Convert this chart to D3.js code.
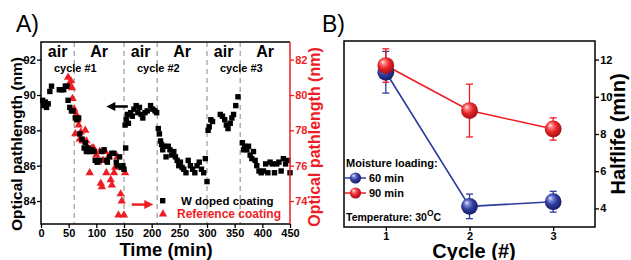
<!DOCTYPE html>
<html>
<head>
<meta charset="utf-8">
<script src="https://cdn.jsdelivr.net/npm/d3@7"></script>
<style>
  body { margin: 0; background: #fff; }
  svg { display: block; font-family: "Liberation Sans", Arial, sans-serif; font-weight: bold; }
</style>
</head>
<body>
<svg id="chart" width="631" height="260"></svg>
<script>
// ---- Panel A data: W doped coating (left axis, nm) ----
const timeW = [3, 5, 8, 10, 13, 16, 19, 33, 37, 41, 44, 47, 49, 52, 55, 58,
  62, 65, 68, 70, 74, 78, 80, 82, 85, 88, 92, 96, 98, 102, 106, 110, 114, 118, 120, 124, 128, 132, 136, 138, 142, 145, 148, 150, 153,
  152, 154, 156, 158, 162, 165, 168, 172, 175, 178, 181, 184, 188, 192, 198, 202, 206, 209,
  212, 214, 216, 218, 220, 223, 226, 230, 233, 236, 240, 243, 246, 249, 252, 255, 258, 262, 266, 270, 274, 278, 282, 286, 290, 294, 297, 300,
  302, 304, 307, 310, 324, 328, 332, 335, 338, 342, 345, 348, 352, 356,
  364, 366, 368, 372, 375, 378, 381, 384, 387, 390, 394, 398, 402, 406, 410, 414, 418, 422, 426, 430, 434, 438, 442, 446, 450];
const valW = [89.7, 89.4, 89.6, 89.3, 89.5, 90.2, 90.5, 90.3, 90.3, 90.3, 90.5, 90.5, 89.7, 89.3, 89.1, 89.1,
  88.7, 88.6, 88.7, 87.8, 87.5, 87.0, 87.3, 86.8, 87.0, 86.8, 86.9, 86.8, 86.3, 86.2, 86.3, 86.8, 86.9, 86.3, 86.2, 86.5, 86.7, 86.7, 86.2, 86.0, 86.5, 85.9, 86.0, 85.8, 87.0,
  88.3, 88.6, 88.9, 88.4, 89.0, 88.8, 89.2, 89.4, 89.0, 89.3, 88.9, 88.7, 89.0, 89.1, 89.4, 89.2, 89.1, 89.0,
  88.1, 87.8, 87.4, 87.2, 86.9, 87.1, 86.5, 87.1, 86.9, 86.6, 86.8, 86.5, 86.3, 86.0, 86.2, 85.9, 85.8, 85.6, 86.3, 86.0, 85.8, 85.6, 86.0, 86.2, 85.8, 85.6, 86.4, 85.1,
  88.0, 88.2, 88.6, 88.5, 88.9, 88.8, 88.6, 88.3, 88.1, 88.4, 88.7, 88.9, 89.4, 89.9,
  87.3, 86.9, 87.1, 86.9, 87.1, 86.6, 86.4, 86.8, 86.3, 86.0, 85.7, 85.6, 85.7, 86.1, 85.6, 86.2, 86.1, 85.6, 86.1, 86.2, 85.7, 86.4, 86.1, 86.3, 85.6];

// ---- Panel A data: reference coating (right axis, nm) ----
const timeRef = [49, 52, 54, 56, 57, 60, 62, 64, 66, 68, 70, 72, 75, 78, 80, 82, 85, 88, 92, 95, 100, 103, 106, 108, 110,
  112, 116, 118, 122, 126, 128, 132, 134, 138, 140, 144, 146, 150, 152];
const valRef = [81.0, 80.6, 80.8, 80.4, 79.8, 79.2, 77.8, 78.9, 78.6, 78.3, 77.5, 77.9, 77.4, 77.4, 78.0, 77.4, 77.0, 75.6, 77.0, 77.0, 76.6, 76.2, 76.8, 75.0, 74.8,
  76.3, 76.8, 75.6, 76.5, 75.2, 74.9, 75.6, 75.9, 76.5, 73.2, 74.4, 74.0, 73.2, 75.6];

const phaseBounds = [0, 60, 150, 210, 300, 360, 450];
const phaseLabels = ["air", "Ar", "air", "Ar", "air", "Ar"];
const cycleLabels = ["cycle #1", "cycle #2", "cycle #3"];
const cycleStarts = [0, 150, 300];
const timeTicks = [0, 50, 100, 150, 200, 250, 300, 350, 400, 450];
const leftTicks = [84, 86, 88, 90, 92];
const rightTicks = [74, 76, 78, 80, 82];

// ---- Panel B data: halflife vs cycle ----
const cycles = [1, 2, 3];
const half60 = [11.32, 4.11, 4.36];
const err60 = [1.12, 0.66, 0.56];
const half90 = [11.68, 9.26, 8.27];
const err90 = [0.9, 1.42, 0.6];
const halfTicks = [4, 6, 8, 10, 12];

const RED = "#ee1d25";
const svg = d3.select("#chart");

/**
 * Minor + major ticks helper
 */
function drawAxis(g, axisFn, scale, major, minor, fmt, color) {
  g.call(axisFn(scale).tickValues(minor).tickSize(2.5).tickFormat(""));
  g.call(axisFn(scale).tickValues(major).tickSize(4).tickPadding(1.2).tickFormat(fmt));
  g.selectAll(".domain").remove();
  g.selectAll("line").attr("stroke", color).attr("stroke-width", 1.3);
  g.selectAll("text").attr("fill", color).attr("font-size", 11).attr("font-weight", "bold")
    .attr("font-family", '"Liberation Sans", Arial, sans-serif');
}

// ================= Panel A =================
const A = {left: 41, right: 290, top: 42, bottom: 224};
const x = d3.scaleLinear().domain([0, 450]).range([A.left, A.right]);
const yL = d3.scaleLinear().domain([82.7, 93.0]).range([A.bottom, A.top]);
const yR = d3.scaleLinear().domain([72.7, 83.0]).range([A.bottom, A.top]);

svg.append("text").attr("x", 16).attr("y", 32).attr("font-size", 23).attr("font-weight", "normal").text("A)");

// dashed separators
svg.append("g").selectAll("line").data(phaseBounds.slice(1, -1)).join("line")
  .attr("x1", d => x(d)).attr("x2", d => x(d))
  .attr("y1", A.top).attr("y2", A.bottom)
  .attr("stroke", "#9a9a9a").attr("stroke-width", 1.2).attr("stroke-dasharray", "5,4");

// phase labels
svg.append("g").selectAll("text").data(phaseLabels).join("text")
  .attr("x", (d, i) => x((phaseBounds[i] + phaseBounds[i + 1]) / 2))
  .attr("y", 57).attr("text-anchor", "middle").attr("font-size", 16)
  .text(d => d);

svg.append("g").selectAll("text").data(cycleLabels).join("text")
  .attr("x", (d, i) => x(cycleStarts[i] + 62))
  .attr("y", 72).attr("text-anchor", "middle").attr("font-size", 11)
  .text(d => d);

// reference triangles
const tri = d3.symbol().type(d3.symbolTriangle).size(30);
svg.append("g").selectAll("path").data(timeRef).join("path")
  .attr("transform", (d, i) => `translate(${x(d)},${yR(valRef[i])})`)
  .attr("d", tri).attr("fill", RED);

// W doped squares
svg.append("g").selectAll("rect").data(timeW).join("rect")
  .attr("x", d => x(d) - 2.7).attr("y", (d, i) => yL(valW[i]) - 2.7)
  .attr("width", 5.4).attr("height", 5.4).attr("fill", "#000");

// arrows
function arrow(x1, x2, y, color) {
  const dir = Math.sign(x2 - x1);
  svg.append("line").attr("x1", x1).attr("x2", x2 - dir * 6).attr("y1", y).attr("y2", y)
    .attr("stroke", color).attr("stroke-width", 2.5);
  svg.append("path")
    .attr("d", `M${x2},${y} L${x2 - dir * 9},${y - 4.5} L${x2 - dir * 9},${y + 4.5} Z`)
    .attr("fill", color);
}
arrow(x(157), x(118), yL(89.35), "#000");
arrow(x(164), x(203), yR(73.8), RED);

// legend A
svg.append("rect").attr("x", 160).attr("y", 198).attr("width", 5.4).attr("height", 5.4).attr("fill", "#000");
svg.append("text").attr("x", 181).attr("y", 205).attr("font-size", 11.5).text("W doped coating");
svg.append("path").attr("transform", "translate(163,214)").attr("d", tri).attr("fill", RED);
svg.append("text").attr("x", 177).attr("y", 218).attr("font-size", 12).attr("fill", RED).text("Reference coating");

// axes A
drawAxis(svg.append("g").attr("transform", `translate(0,${A.bottom})`), d3.axisBottom, x,
  timeTicks, d3.range(25, 450, 50), d3.format("d"), "#000");
drawAxis(svg.append("g").attr("transform", `translate(${A.left},0)`), d3.axisLeft, yL,
  leftTicks, [83, 85, 87, 89, 91], d3.format("d"), "#000");
drawAxis(svg.append("g").attr("transform", `translate(${A.right},0)`), d3.axisRight, yR,
  rightTicks, [73, 75, 77, 79, 81], d3.format("d"), RED);

svg.append("path").attr("d", `M${A.right},${A.top} H${A.left} V${A.bottom} H${A.right}`)
  .attr("fill", "none").attr("stroke", "#000").attr("stroke-width", 1.5);
svg.append("line").attr("x1", A.right).attr("x2", A.right).attr("y1", A.top).attr("y2", A.bottom)
  .attr("stroke", RED).attr("stroke-width", 1.5);

svg.append("text").attr("transform", "translate(22,144) rotate(-90)")
  .attr("text-anchor", "middle").attr("font-size", 15.5).text("Optical pathlength (nm)");
svg.append("text").attr("transform", "translate(320,137) rotate(-90)")
  .attr("text-anchor", "middle").attr("font-size", 16).attr("fill", RED).text("Optical pathlength (nm)");
svg.append("text").attr("x", 166).attr("y", 256).attr("text-anchor", "middle")
  .attr("font-size", 18.5).text("Time (min)");

// ================= Panel B =================
const B = {left: 344, right: 595, top: 41, bottom: 227};
const xB = d3.scaleLinear().domain([0.5, 3.5]).range([B.left, B.right]);
const yB = d3.scaleLinear().domain([3, 13]).range([B.bottom, B.top]);

svg.append("text").attr("x", 322).attr("y", 32).attr("font-size", 23).attr("font-weight", "normal").text("B)");

const defs = svg.append("defs");
function sphereGrad(id, light, base, dark) {
  const g = defs.append("radialGradient").attr("id", id)
    .attr("cx", "45%").attr("cy", "42%").attr("r", "60%").attr("fx", "32%").attr("fy", "28%");
  g.append("stop").attr("offset", "0%").attr("stop-color", "#ffffff");
  g.append("stop").attr("offset", "18%").attr("stop-color", light);
  g.append("stop").attr("offset", "55%").attr("stop-color", base);
  g.append("stop").attr("offset", "100%").attr("stop-color", dark);
}
sphereGrad("gBlue", "#8a95dc", "#2f3d9e", "#141c62");
sphereGrad("gRed", "#ff8a8a", "#e8242a", "#9c0d12");

const series = [
  {vals: half60, errs: err60, color: "#2b3a9e", grad: "url(#gBlue)"},
  {vals: half90, errs: err90, color: RED, grad: "url(#gRed)"}
];

const line = d3.line().x((d, i) => xB(cycles[i])).y(d => yB(d));
series.forEach(s => {
  svg.append("path").attr("d", line(s.vals)).attr("fill", "none")
    .attr("stroke", s.color).attr("stroke-width", 1.6);
});
series.forEach(s => {
  const g = svg.append("g").attr("stroke", s.color).attr("stroke-width", 1.3);
  cycles.forEach((c, i) => {
    const cx = xB(c), lo = yB(s.vals[i] - s.errs[i]), hi = yB(s.vals[i] + s.errs[i]);
    g.append("line").attr("x1", cx).attr("x2", cx).attr("y1", lo).attr("y2", hi);
    g.append("line").attr("x1", cx - 3.5).attr("x2", cx + 3.5).attr("y1", lo).attr("y2", lo);
    g.append("line").attr("x1", cx - 3.5).attr("x2", cx + 3.5).attr("y1", hi).attr("y2", hi);
  });
});
series.forEach(s => {
  svg.append("g").selectAll("circle").data(s.vals).join("circle")
    .attr("cx", (d, i) => xB(cycles[i])).attr("cy", d => yB(d))
    .attr("r", 8.4).attr("fill", s.grad);
});

drawAxis(svg.append("g").attr("transform", `translate(0,${B.bottom})`), d3.axisBottom, xB,
  cycles, [1.5, 2.5], d3.format("d"), "#000");
drawAxis(svg.append("g").attr("transform", `translate(${B.right},0)`), d3.axisRight, yB,
  halfTicks, [5, 7, 9, 11], d3.format("d"), "#000");
svg.append("rect").attr("x", B.left).attr("y", B.top)
  .attr("width", B.right - B.left).attr("height", B.bottom - B.top)
  .attr("fill", "none").attr("stroke", "#000").attr("stroke-width", 1.5);

// legend B
svg.append("text").attr("x", 346).attr("y", 167).attr("font-size", 11).text("Moisture loading:");
[["#2b3a9e", "url(#gBlue)", "60 min", 178], [RED, "url(#gRed)", "90 min", 193]].forEach(([c, f, t, y]) => {
  svg.append("line").attr("x1", 345).attr("x2", 366).attr("y1", y).attr("y2", y)
    .attr("stroke", c).attr("stroke-width", 1.6).attr("stroke-dasharray", "5,11");
  svg.append("circle").attr("cx", 355.5).attr("cy", y).attr("r", 5.6).attr("fill", f);
  svg.append("text").attr("x", 369).attr("y", y + 4).attr("font-size", 11).text(t);
});
const temp = svg.append("text").attr("x", 346).attr("y", 221).attr("font-size", 10.5);
temp.append("tspan").text("Temperature: 30");
temp.append("tspan").attr("dy", -5).attr("font-size", 8.5).text("O");
temp.append("tspan").attr("dy", 5).text("C");

svg.append("text").attr("transform", "translate(625,134) rotate(-90)")
  .attr("text-anchor", "middle").attr("font-size", 20).text("Halflife (min)");
svg.append("text").attr("x", 474).attr("y", 257.5).attr("text-anchor", "middle")
  .attr("font-size", 20).text("Cycle (#)");
</script>
</body>
</html>
